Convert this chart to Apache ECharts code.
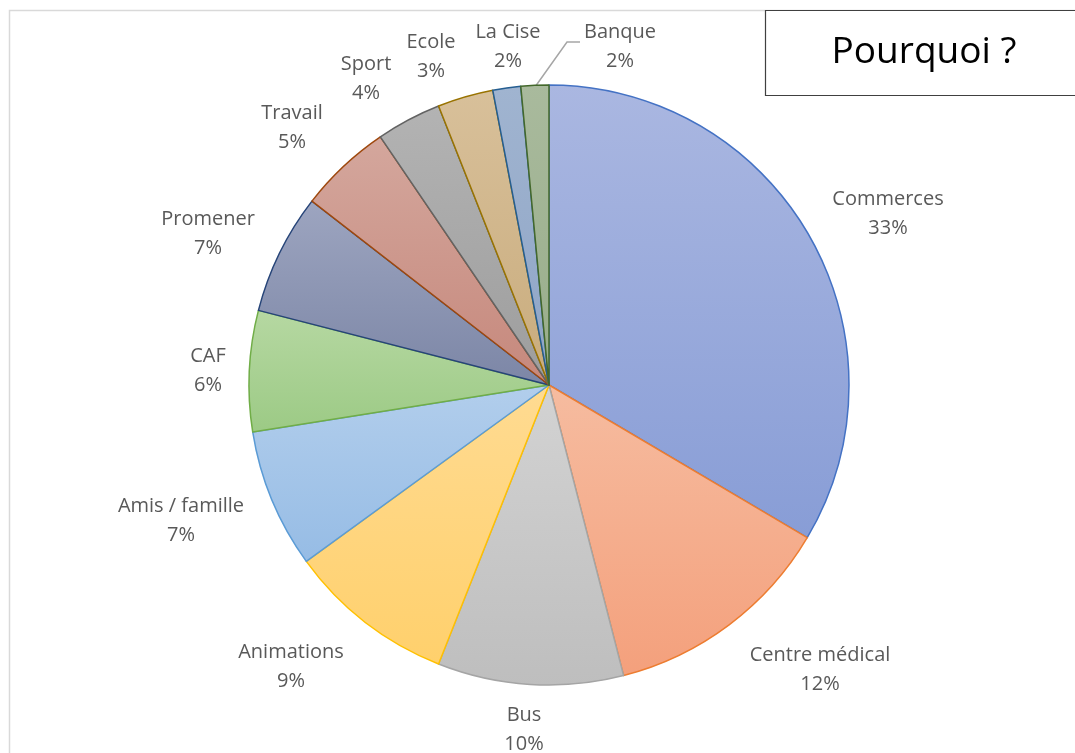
<!DOCTYPE html>
<html>
<head>
<meta charset="utf-8">
<script src="https://cdn.jsdelivr.net/npm/echarts@6/dist/echarts.min.js"></script>
<style>
  html, body { margin: 0; padding: 0; background: #fff; }
  #mChart { width: 1075px; height: 753px; }
</style>
</head>
<body>
<div id="mChart"></div>
<script>
// catégories
const categories = ['Commerces', 'Centre médical', 'Bus', 'Animations', 'Amis / famille',
  'CAF', 'Promener', 'Travail', 'Sport', 'Ecole', 'La Cise', 'Banque'];
const values = [33.5, 12.5, 10, 9, 7.5, 6.5, 6.5, 5, 3.5, 3, 1.5, 1.5];
// pourcentages affichés
const pctLabels = [33, 12, 10, 9, 7, 6, 7, 5, 4, 3, 2, 2];

// couleurs : bord, haut du dégradé, bas du dégradé
const borderColors = ['#4472C4', '#ED7D31', '#A5A5A5', '#FFC000', '#5B9BD5', '#70AD47',
  '#264478', '#9E480E', '#636363', '#997300', '#255E91', '#43682B'];
const topColors = ['#AAB7E1', '#F6BCA0', '#D3D3D3', '#FFDB92', '#B2CEEC', '#B6D8A2',
  '#9DA5C0', '#D4A79D', '#B3B3B3', '#D8C09A', '#A0B4D0', '#A9BA9D'];
const bottomColors = ['#889DD6', '#F4A07C', '#BEBEBE', '#FFD06C', '#96BCE5', '#9CCA85',
  '#7C86A6', '#C6887C', '#9D9D9D', '#C9AC7D', '#8FA5C6', '#98AD8A'];

// position des étiquettes
const labelPos = [[888, 214], [820, 670], [524, 730], [291, 667], [181, 521], [208, 371],
  [208, 234], [292, 128], [366, 79], [431, 57], [508, 47], [620, 47]];

let myChart = echarts.init(document.getElementById('mChart'));

const pieData = categories.map((name, i) => {
  let item = {
    name: name,
    value: values[i],
    itemStyle: {
      color: new echarts.graphic.LinearGradient(0, 0, 0, 1, [
        { offset: 0, color: topColors[i] },
        { offset: 1, color: bottomColors[i] }
      ]),
      borderColor: borderColors[i],
      borderWidth: 1.5
    }
  };
  if (name === 'Banque') {
    item.labelLine = { show: true, lineStyle: { color: '#A6A6A6', width: 1.5 } };
  }
  return item;
});

myChart.setOption({
  animation: false,
  graphic: [
    {
      type: 'rect',
      shape: { x: 9.5, y: 10.5, width: 1100, height: 800 },
      style: { fill: 'none', stroke: '#D9D9D9', lineWidth: 1.5 },
      z: 0
    },
    {
      type: 'rect',
      shape: { x: 765.5, y: 10.5, width: 340, height: 85 },
      style: { fill: '#fff', stroke: '#404040', lineWidth: 1.2 },
      z: 10
    },
    {
      type: 'text',
      x: 924, y: 52,
      style: {
        text: 'Pourquoi ?',
        font: '37px "Open Sans", "Noto Sans", sans-serif',
        fill: '#000',
        align: 'center',
        verticalAlign: 'middle'
      },
      z: 11
    }
  ],
  series: [
    {
      type: 'pie',
      center: [549, 385],
      radius: 300,
      startAngle: 90,
      clockwise: true,
      data: pieData,
      label: {
        show: true,
        formatter: function (p) {
          return p.name + '\n' + pctLabels[p.dataIndex] + '%';
        },
        color: '#595959',
        fontSize: 20,
        fontFamily: '"Open Sans", "Noto Sans", sans-serif',
        lineHeight: 29,
        align: 'center'
      },
      labelLine: { show: false },
      labelLayout: function (params) {
        const p = labelPos[params.dataIndex];
        let out = { x: p[0], y: p[1], align: 'center', verticalAlign: 'middle' };
        if (params.dataIndex === categories.length - 1) {
          out.labelLinePoints = [[580, 42], [567, 42], [535, 87]];
        }
        return out;
      },
      emphasis: { disabled: true }
    }
  ]
});
</script>
</body>
</html>
